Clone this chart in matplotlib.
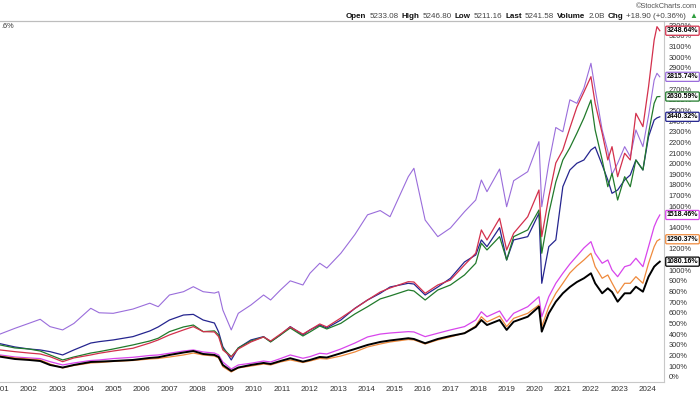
import matplotlib
matplotlib.use("Agg")
import matplotlib.pyplot as plt
from matplotlib.lines import Line2D

plt.rcParams["font.family"] = ["Liberation Sans", "DejaVu Sans"]

# ---------- DATOS (% de cambio) ----------
dates = [
    2000.97, 2001.5, 2002.0, 2002.4, 2002.75, 2003.2, 2003.6, 2004.2, 2004.5, 2005.0,
    2005.7, 2006.3, 2006.6, 2007.0, 2007.5, 2007.85, 2008.2, 2008.6, 2008.75, 2008.9,
    2009.2, 2009.45, 2009.9, 2010.35, 2010.6, 2010.95, 2011.3, 2011.75, 2012.0, 2012.35,
    2012.6, 2013.1, 2013.6, 2014.05, 2014.5, 2014.85, 2015.5, 2015.7, 2016.1, 2016.55,
    2017.0, 2017.5, 2017.9, 2018.1, 2018.3, 2018.75, 2019.0, 2019.25, 2019.75, 2020.15,
    2020.25, 2020.5, 2020.75, 2021.0, 2021.25, 2021.5, 2021.75, 2022.0, 2022.15, 2022.4,
    2022.6, 2022.75, 2022.95, 2023.2, 2023.4, 2023.6, 2023.85, 2024.05, 2024.25, 2024.35,
    2024.45,
]

purple = [
    400, 454, 501, 539, 470, 439, 500, 642, 600, 595,
    635, 690, 657, 767, 798, 845, 798, 785, 798, 626,
    439, 595, 673, 767, 720, 814, 900, 861, 971, 1065,
    1020, 1159, 1335, 1520, 1560, 1502, 1878, 1957, 1471, 1315,
    1396, 1549, 1659, 1847, 1737, 1950, 1596, 1840, 1925, 2207,
    1596, 2004, 2340, 2300, 2600, 2567, 2710, 2943, 2700, 2317,
    2120, 1900, 2004, 2160, 2066, 2317, 2160, 2450, 2785, 2849,
    2815.74,
]
red = [
    251, 235, 222, 213, 188, 141, 176, 204, 220, 241,
    267, 316, 345, 392, 439, 470, 423, 420, 376, 251,
    185, 260, 326, 373, 335, 400, 467, 400, 439, 495,
    467, 551, 640, 720, 795, 833, 892, 889, 783, 861,
    908, 1049, 1159, 1378, 1284, 1487, 1190, 1347, 1502, 1753,
    1315, 1690, 2007, 2129, 2335, 2532, 2673, 2817, 2567, 2286,
    2035, 2160, 1878, 2098, 2035, 2473, 2348, 2723, 3162, 3287,
    3248.64,
]
green = [
    298, 270, 260, 241, 204, 157, 185, 222, 235, 260,
    298, 335, 361, 423, 467, 485, 423, 430, 392, 267,
    188, 270, 335, 373, 326, 392, 457, 382, 420, 476,
    448, 501, 589, 657, 730, 758, 814, 805, 720, 814,
    861, 955, 1065, 1253, 1190, 1315, 1096, 1315, 1378, 1565,
    1159, 1534, 1828, 2035, 2150, 2286, 2430, 2598, 2317, 2035,
    1784, 1910, 1659, 1878, 1784, 2035, 1941, 2286, 2567, 2629,
    2630.59,
]
navy = [
    310, 279, 260, 251, 235, 204, 251, 316, 329, 345,
    376, 429, 467, 532, 579, 585, 532, 504, 420, 282,
    157, 270, 345, 376, 329, 392, 470, 392, 439, 485,
    457, 532, 642, 720, 783, 842, 877, 870, 767, 842,
    924, 1077, 1143, 1284, 1221, 1400, 1096, 1284, 1315, 1534,
    877, 1221, 1284, 1784, 1941, 2004, 2035, 2129, 2157, 1988,
    1847, 1722, 1753, 1847, 1894, 2035, 1941, 2254, 2410, 2430,
    2440.32,
]
magenta = [
    204, 185, 176, 170, 141, 110, 129, 152, 157, 170,
    182, 199, 204, 220, 241, 251, 232, 222, 204, 138,
    72, 110, 126, 147, 138, 170, 204, 173, 188, 220,
    213, 260, 316, 373, 400, 410, 423, 420, 376, 408,
    439, 470, 532, 610, 563, 617, 516, 595, 657, 751,
    563, 751, 877, 971, 1058, 1133, 1209, 1268, 1159, 1065,
    1096, 1002, 939, 1033, 1049, 1112, 1033, 1221, 1409, 1471,
    1518.46,
]
orange = [
    194, 176, 166, 157, 119, 82, 105, 129, 133, 143,
    152, 166, 171, 185, 204, 222, 204, 194, 176, 94,
    44, 82, 100, 119, 110, 138, 157, 133, 147, 171,
    166, 194, 232, 279, 307, 326, 349, 345, 307, 345,
    373, 410, 476, 563, 514, 570, 470, 548, 595, 673,
    470, 657, 783, 877, 974, 1040, 1096, 1159, 1033, 924,
    955, 880, 783, 877, 877, 939, 877, 1065, 1221, 1274,
    1290.37,
]
black = [
    188, 166, 157, 147, 110, 86, 110, 138, 141, 147,
    157, 176, 182, 204, 227, 241, 213, 204, 185, 110,
    54, 86, 110, 129, 119, 147, 173, 141, 157, 185,
    180, 220, 260, 298, 326, 340, 361, 354, 314, 354,
    382, 408, 467, 532, 485, 532, 439, 516, 563, 657,
    423, 595, 704, 783, 842, 889, 924, 971, 877, 783,
    830, 795, 704, 783, 783, 845, 798, 939, 1033, 1058,
    1080.16,
]

years = list(range(2001, 2025))
y_ticks = list(range(0, 3400, 100))

header_labels = ["Open", "High", "Low", "Last", "Volume", "Chg"]
header_values = ["5233.08", "5246.80", "5211.16", "5241.58", "2.0B", "+18.90 (+0.36%)"]

series = [
    (purple, "#9a6ddb", 0.8),
    (navy, "#25258f", 0.9),
    (green, "#217a2b", 0.9),
    (red, "#d3304c", 0.9),
    (magenta, "#d845ec", 0.9),
    (orange, "#ef8a3c", 0.9),
    (black, "#000000", 1.4),
]
for vals, _, _ in series:
    assert len(vals) == len(dates)

# ---------- FIGURA ----------
W, H = 700, 394
fig = plt.figure(figsize=(W / 100, H / 100), dpi=100)
ax = fig.add_axes([0, 1 - 382 / H, 664 / W, (382 - 21) / H])

for vals, col, lw in series:
    ax.plot(dates, vals, color=col, lw=lw)

ax.set_xlim(2000.97, 2024.6)
ax.set_ylim(-50, 3340)

ax.set_xticks(years)
ax.set_xticklabels([str(y) for y in years], fontsize=5.8, color="#333333")
ax.yaxis.tick_right()
ax.set_yticks(y_ticks)
ax.set_yticklabels([f"{v}%" for v in y_ticks], fontsize=5.3, color="#333333")
ax.tick_params(axis="both", length=0)
ax.tick_params(axis="x", pad=3)
ax.tick_params(axis="y", pad=3.5)

ax.spines["left"].set_visible(False)
for s in ["right", "bottom", "top"]:
    ax.spines[s].set_color("#c8c8c8")
    ax.spines[s].set_linewidth(0.8)

# etiquetas con el valor final
for vals, col, _ in series:
    ax.annotate(f"{vals[-1]:.2f}%", xy=(1.0, vals[-1]), xycoords=ax.get_yaxis_transform(),
                xytext=(2, 0), textcoords="offset points", ha="left", va="center",
                fontsize=5.0, fontweight="bold", color="black",
                bbox=dict(boxstyle="round,pad=0.15", fc="white", ec=col, lw=0.9),
                annotation_clip=False, zorder=5)

# linea superior que cruza toda la figura
fig.add_artist(Line2D([0, 1], [1 - 21 / H, 1 - 21 / H], color="#bdbdbd", lw=0.8))

# ---------- CABECERA ----------
fig.text(697 / W, 1 - 6 / H, "\u00a9StockCharts.com", fontsize=5.3, color="#555555",
         ha="right", va="center")
fig.text(1 / W, 1 - 27 / H, ".6%", fontsize=5.3, color="#333333", ha="left", va="center")

renderer = fig.canvas.get_renderer()
pieces = []
for lab, val in zip(header_labels, header_values):
    pieces.append((lab, "bold", "#111111"))
    pieces.append((val, "normal", "#444444"))
pieces.append(("\u25b2", "normal", "#2e9e3e"))

texts = []
widths = []
for s, wgt, col in pieces:
    t = fig.text(0, 1 - 16 / H, s, fontsize=5.8, fontweight=wgt, color=col, ha="left", va="center")
    texts.append(t)
    widths.append(t.get_window_extent(renderer).width)
gap = 3.0
total = sum(widths) + gap * (len(widths) - 1)
x = 697 - total
for t, w in zip(texts, widths):
    t.set_x(x / W)
    x += w + gap

fig.savefig("out.png", dpi=100)
